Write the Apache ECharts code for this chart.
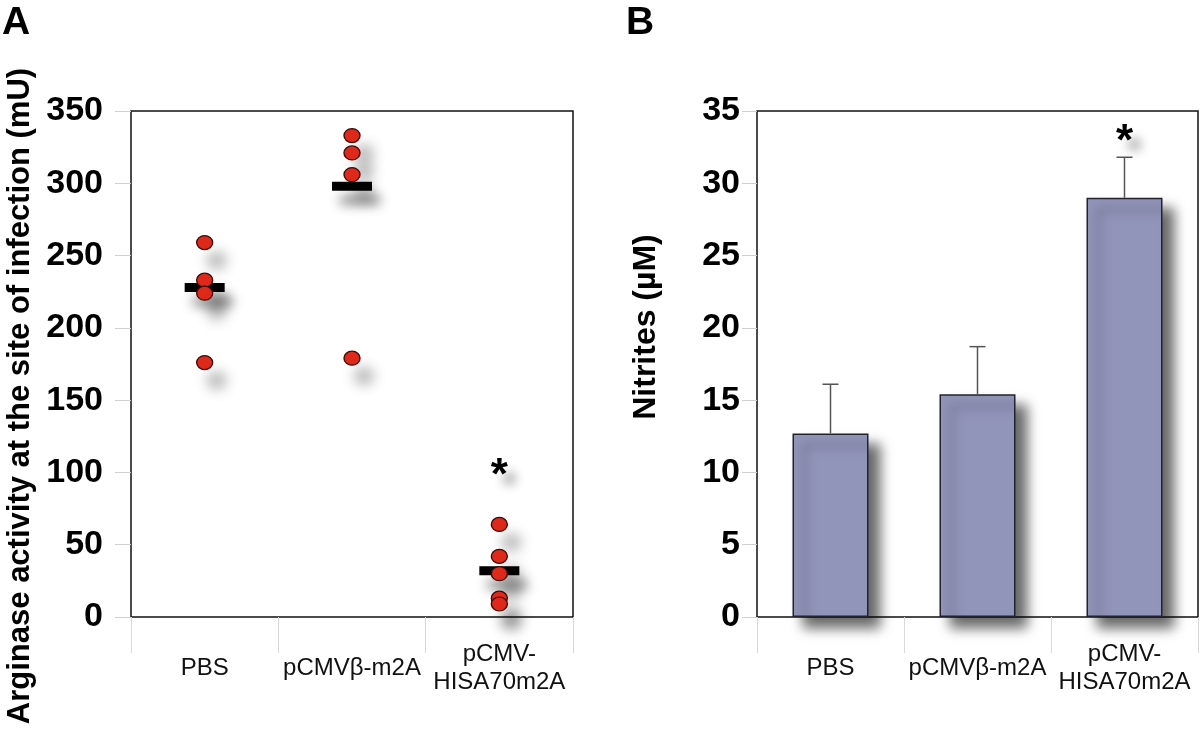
<!DOCTYPE html>
<html>
<head>
<meta charset="utf-8">
<script src="https://cdn.jsdelivr.net/npm/echarts@6/dist/echarts.min.js"></script>
<style>
html,body{margin:0;padding:0;background:#fff;}
#chart{width:1200px;height:730px;}
</style>
</head>
<body>
<div id="chart"></div>
<script>
// ---- Data ----
const categories = ['PBS', 'pCMVβ-m2A', 'pCMV-\nHISA70m2A'];
// Panel A: arginase activity (mU), individual animals
const pointsPBS = [259, 233, 224, 176];
const pointsBeta = [333, 321, 306, 179];
const pointsHisa = [64, 42, 30, 13, 9];
const meansA = [228, 298, 32];
const starA = [[2, 104]];
const yTicksA = { min: 0, max: 350, interval: 50 };
// Panel B: nitrites (µM)
const nitrites = [12.7, 15.4, 29.0];
const nitritesErrTop = [16.1, 18.7, 31.8];
const starB = [[2, 33.5]];
const yTicksB = { min: 0, max: 35, interval: 5 };

const FONT = 'Liberation Sans, Arial, Helvetica, sans-serif';

function pts(idx, arr) { return arr.map(v => [idx, v]); }
const scatterData = [].concat(pts(0, pointsPBS), pts(1, pointsBeta), pts(2, pointsHisa));
const meanData = meansA.map((v, i) => [i, v]);
const errData = nitrites.map((v, i) => [i, v, nitritesErrTop[i]]);

const chart = echarts.init(document.getElementById('chart'));

function xAxisCfg(gridIndex) {
  return {
    type: 'category', gridIndex, data: categories,
    axisLine: { show: false },
    axisTick: { show: true, interval: 0, length: 36, lineStyle: { color: '#d9d9d9', width: 1 } },
    axisLabel: { interval: 0, margin: 51, verticalAlign: 'middle', lineHeight: 28,
      fontSize: 24, fontFamily: FONT, color: '#111' },
    splitLine: { show: false }
  };
}
function yAxisCfg(gridIndex, t, margin, tickLen) {
  return {
    type: 'value', gridIndex, min: t.min, max: t.max, interval: t.interval,
    axisLine: { show: false },
    axisTick: { show: true, length: tickLen, lineStyle: { color: '#cfcfcf', width: 1 } },
    axisLabel: { margin, fontSize: 34, fontWeight: 'bold', fontFamily: FONT, color: '#000' },
    splitLine: { show: false }
  };
}
const starLabel = {
  show: true, formatter: '*', position: 'inside', offset: [0, 10], opacity: 1,
  fontSize: 44, fontWeight: 'bold', fontFamily: FONT, color: '#000',
  textShadowColor: 'rgba(0,0,0,0.3)', textShadowBlur: 10, textShadowOffsetX: 10, textShadowOffsetY: 12
};

chart.setOption({
  animation: false,
  backgroundColor: '#fff',
  grid: [
    { left: 131, top: 111, width: 442, height: 506, show: true, borderColor: '#111', borderWidth: 1.5 },
    { left: 757, top: 111, width: 441, height: 506, show: true, borderColor: '#111', borderWidth: 1.5 }
  ],
  xAxis: [xAxisCfg(0), xAxisCfg(1)],
  yAxis: [yAxisCfg(0, yTicksA, 28, 16), yAxisCfg(1, yTicksB, 17, 15)],
  graphic: [
    { type: 'text', left: 2, top: 4, style: { text: 'A', fontSize: 39, fontWeight: 'bold', fontFamily: FONT, fill: '#000' } },
    { type: 'text', left: 626, top: 4, style: { text: 'B', fontSize: 39, fontWeight: 'bold', fontFamily: FONT, fill: '#000' } },
    { type: 'text', x: 20, y: 396, rotation: Math.PI / 2,
      style: { text: 'Arginase activity at the site of infection (mU)', fontSize: 31, fontWeight: 'bold',
        fontFamily: FONT, fill: '#000', align: 'center', verticalAlign: 'middle' } },
    { type: 'text', x: 646, y: 327, rotation: Math.PI / 2,
      style: { text: 'Nitrites (µM)', fontSize: 32, fontWeight: 'bold',
        fontFamily: FONT, fill: '#000', align: 'center', verticalAlign: 'middle' } }
  ],
  series: [
    { type: 'scatter', xAxisIndex: 0, yAxisIndex: 0, data: meanData, z: 2,
      symbol: 'rect', symbolSize: [40, 9],
      itemStyle: { color: '#000', opacity: 1, shadowColor: 'rgba(0,0,0,0.45)', shadowBlur: 12, shadowOffsetX: 8, shadowOffsetY: 14 } },
    { type: 'scatter', xAxisIndex: 0, yAxisIndex: 0, data: scatterData, z: 3,
      symbol: 'circle', symbolSize: [16, 14],
      itemStyle: { color: '#e0291b', borderColor: '#3b0c06', borderWidth: 1.3, opacity: 1,
        shadowColor: 'rgba(0,0,0,0.35)', shadowBlur: 14, shadowOffsetX: 12, shadowOffsetY: 18 } },
    { type: 'scatter', xAxisIndex: 0, yAxisIndex: 0, data: starA, z: 4,
      symbol: 'circle', symbolSize: 1, itemStyle: { color: 'rgba(0,0,0,0)', opacity: 1 }, label: starLabel },
    { type: 'bar', xAxisIndex: 1, yAxisIndex: 1, data: nitrites, barWidth: 76, z: 2,
      itemStyle: { color: '#9295ba', borderColor: '#23232e', borderWidth: 1.5,
        shadowColor: 'rgba(0,0,0,0.6)', shadowBlur: 12, shadowOffsetX: 11, shadowOffsetY: 11 } },
    { type: 'custom', xAxisIndex: 1, yAxisIndex: 1, data: errData, z: 3,
      renderItem: function (params, api) {
        const base = api.coord([api.value(0), api.value(1)]);
        const top = api.coord([api.value(0), api.value(2)]);
        const cap = 8;
        return { type: 'group', children: [
          { type: 'line', shape: { x1: base[0], y1: base[1], x2: top[0], y2: top[1] },
            style: { stroke: '#555', lineWidth: 1.5 } },
          { type: 'line', shape: { x1: top[0] - cap, y1: top[1], x2: top[0] + cap, y2: top[1] },
            style: { stroke: '#555', lineWidth: 1.5 } }
        ] };
      } },
    { type: 'scatter', xAxisIndex: 1, yAxisIndex: 1, data: starB, z: 4,
      symbol: 'circle', symbolSize: 1, itemStyle: { color: 'rgba(0,0,0,0)', opacity: 1 }, label: starLabel }
  ]
});
</script>
</body>
</html>
